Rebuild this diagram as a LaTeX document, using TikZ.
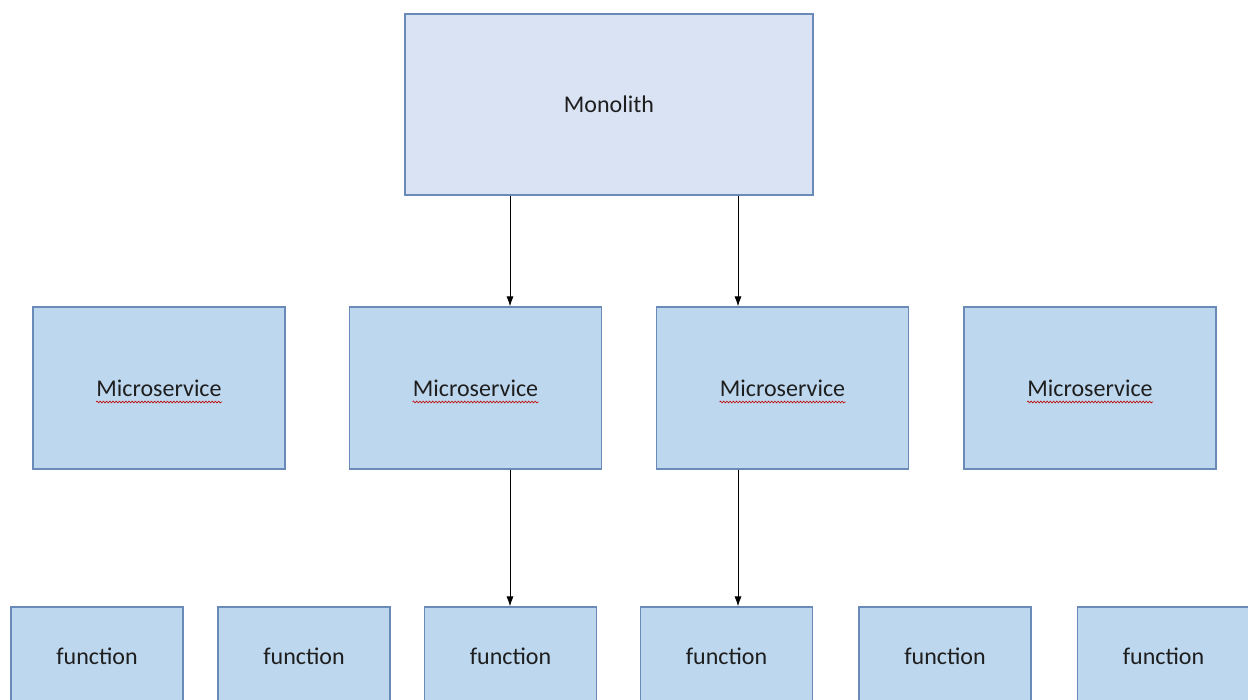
\documentclass[tikz,border=0pt]{standalone}
\usepackage{fontspec}
\setmainfont{Carlito}
\usetikzlibrary{arrows.meta,calc,decorations.pathmorphing}

\definecolor{monofill}{HTML}{DAE3F3}
\definecolor{boxfill}{HTML}{BDD7EE}
\definecolor{boxline}{HTML}{6A8AB8}
\definecolor{inktext}{HTML}{1E1E1E}

\begin{document}
\begin{tikzpicture}[x=1pt,y=-1pt,
    box/.style={draw=boxline,fill=boxfill,line width=1.2pt,text=inktext,
      font=\fontsize{24}{28}\selectfont,inner sep=0pt},
    msbox/.style={box,minimum width=252pt,minimum height=162pt},
    fnbox/.style={box,minimum width=172pt,minimum height=98pt},
    spellmark/.style={red!75!black,line width=0.6pt,decorate,
      decoration={snake,amplitude=0.9pt,segment length=3.2pt}},
    link/.style={-{Latex[length=10pt,width=7pt]},line width=0.9pt}]
  \useasboundingbox (0,0) rectangle (1248,700);
  \clip (0,0) rectangle (1248,700);

  \node[box,fill=monofill,minimum width=408pt,minimum height=181pt] (mono) at (609,104.5) {Monolith};

  \node[msbox] (ms1) at (159,388) {Microservice};
  \node[msbox] (ms2) at (475.5,388) {Microservice};
  \node[msbox] (ms3) at (782.5,388) {Microservice};
  \node[msbox] (ms4) at (1090,388) {Microservice};

  \node[fnbox] (fn1) at (97,656) {function};
  \node[fnbox] (fn2) at (304,656) {function};
  \node[fnbox] (fn3) at (510.5,656) {function};
  \node[fnbox] (fn4) at (726.5,656) {function};
  \node[fnbox] (fn5) at (945,656) {function};
  \node[fnbox] (fn6) at (1163.5,656) {function};

  \foreach \m in {ms1,ms2,ms3,ms4}
    \draw[spellmark] ($(\m.center)+(-63,14)$) -- ($(\m.center)+(63,14)$);

  \coordinate (A1) at (510,0);
  \coordinate (A2) at (738,0);
  \draw[link] (mono.south -| A1) -- (ms2.north -| A1);
  \draw[link] (mono.south -| A2) -- (ms3.north -| A2);
  \draw[link] (ms2.south -| A1) -- (fn3.north -| A1);
  \draw[link] (ms3.south -| A2) -- (fn4.north -| A2);
\end{tikzpicture}
\end{document}
